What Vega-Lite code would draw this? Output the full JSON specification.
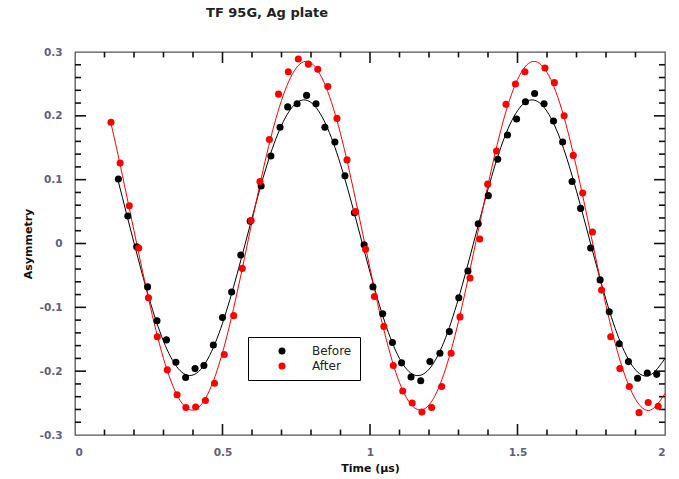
{
  "$schema": "https://vega.github.io/schema/vega-lite/v6.json",
  "width": 590,
  "height": 383,
  "autosize": {"type": "none"},
  "padding": {"left": 75, "top": 52, "right": 14, "bottom": 44},
  "background": "white",
  "title": {"text": "TF 95G, Ag plate", "font": "DejaVu Sans", "fontSize": 13, "fontWeight": "bold", "color": "#222222", "frame": "group", "dx": -103, "offset": 27},
  "config": {
    "view": {"stroke": "#555555", "strokeWidth": 1.3},
    "axis": {"grid": false, "domain": false, "ticks": false, "labelFont": "DejaVu Sans", "labelFontSize": 10.5, "labelFontWeight": "bold", "labelColor": "#60607a", "titleFont": "DejaVu Sans", "titleFontSize": 11, "titleFontWeight": "bold", "titleColor": "#111111"},
    "legend": {"labelFont": "DejaVu Sans", "labelFontSize": 12, "labelColor": "#222222"}
  },
  "datasets": {
    "fitB": [
      {"t": 0.147, "a": 0.097}, {"t": 0.20, "a": 0.001}, {"t": 0.25, "a": -0.084},
      {"t": 0.30, "a": -0.153}, {"t": 0.35, "a": -0.196}, {"t": 0.40, "a": -0.206},
      {"t": 0.45, "a": -0.181}, {"t": 0.50, "a": -0.125}, {"t": 0.55, "a": -0.047},
      {"t": 0.60, "a": 0.040}, {"t": 0.65, "a": 0.122}, {"t": 0.70, "a": 0.185},
      {"t": 0.75, "a": 0.220}, {"t": 0.80, "a": 0.221}, {"t": 0.85, "a": 0.187},
      {"t": 0.90, "a": 0.124}, {"t": 0.95, "a": 0.042}, {"t": 1.00, "a": -0.045},
      {"t": 1.05, "a": -0.123}, {"t": 1.10, "a": -0.180}, {"t": 1.15, "a": -0.206},
      {"t": 1.20, "a": -0.197}, {"t": 1.25, "a": -0.155}, {"t": 1.30, "a": -0.086},
      {"t": 1.35, "a": -0.001}, {"t": 1.40, "a": 0.085}, {"t": 1.45, "a": 0.159},
      {"t": 1.50, "a": 0.208}, {"t": 1.55, "a": 0.225}, {"t": 1.60, "a": 0.207},
      {"t": 1.65, "a": 0.157}, {"t": 1.70, "a": 0.082}, {"t": 1.75, "a": -0.004},
      {"t": 1.80, "a": -0.088}, {"t": 1.85, "a": -0.156}, {"t": 1.90, "a": -0.198},
      {"t": 1.95, "a": -0.206}, {"t": 2.00, "a": -0.180}
    ],
    "fitA": [
      {"t": 0.122, "a": 0.188}, {"t": 0.15, "a": 0.130}, {"t": 0.20, "a": 0.020},
      {"t": 0.25, "a": -0.088}, {"t": 0.30, "a": -0.180}, {"t": 0.35, "a": -0.241},
      {"t": 0.40, "a": -0.261}, {"t": 0.45, "a": -0.236}, {"t": 0.50, "a": -0.171},
      {"t": 0.55, "a": -0.076}, {"t": 0.60, "a": 0.034}, {"t": 0.65, "a": 0.140},
      {"t": 0.70, "a": 0.224}, {"t": 0.75, "a": 0.275}, {"t": 0.80, "a": 0.283},
      {"t": 0.85, "a": 0.246}, {"t": 0.90, "a": 0.172}, {"t": 0.95, "a": 0.071},
      {"t": 1.00, "a": -0.039}, {"t": 1.05, "a": -0.141}, {"t": 1.10, "a": -0.218},
      {"t": 1.15, "a": -0.257}, {"t": 1.20, "a": -0.253}, {"t": 1.25, "a": -0.205},
      {"t": 1.30, "a": -0.122}, {"t": 1.35, "a": -0.017}, {"t": 1.40, "a": 0.092},
      {"t": 1.45, "a": 0.189}, {"t": 1.50, "a": 0.257}, {"t": 1.55, "a": 0.285},
      {"t": 1.60, "a": 0.268}, {"t": 1.65, "a": 0.210}, {"t": 1.70, "a": 0.119},
      {"t": 1.75, "a": 0.011}, {"t": 1.80, "a": -0.097}, {"t": 1.85, "a": -0.187},
      {"t": 1.90, "a": -0.244}, {"t": 1.95, "a": -0.261}, {"t": 2.00, "a": -0.235}
    ],
    "ptB": [
      {"t": 0.147, "a": 0.101, "s": "Before"}, {"t": 0.179, "a": 0.043, "s": "Before"}, {"t": 0.209, "a": -0.005, "s": "Before"},
      {"t": 0.246, "a": -0.068, "s": "Before"}, {"t": 0.278, "a": -0.121, "s": "Before"}, {"t": 0.310, "a": -0.151, "s": "Before"},
      {"t": 0.342, "a": -0.186, "s": "Before"}, {"t": 0.375, "a": -0.210, "s": "Before"}, {"t": 0.407, "a": -0.196, "s": "Before"},
      {"t": 0.437, "a": -0.191, "s": "Before"}, {"t": 0.469, "a": -0.159, "s": "Before"}, {"t": 0.500, "a": -0.116, "s": "Before"},
      {"t": 0.531, "a": -0.076, "s": "Before"}, {"t": 0.562, "a": -0.018, "s": "Before"}, {"t": 0.594, "a": 0.035, "s": "Before"},
      {"t": 0.631, "a": 0.090, "s": "Before"}, {"t": 0.664, "a": 0.137, "s": "Before"}, {"t": 0.695, "a": 0.182, "s": "Before"},
      {"t": 0.721, "a": 0.214, "s": "Before"}, {"t": 0.753, "a": 0.219, "s": "Before"}, {"t": 0.785, "a": 0.232, "s": "Before"},
      {"t": 0.817, "a": 0.219, "s": "Before"}, {"t": 0.847, "a": 0.182, "s": "Before"}, {"t": 0.881, "a": 0.159, "s": "Before"},
      {"t": 0.915, "a": 0.106, "s": "Before"}, {"t": 0.947, "a": 0.048, "s": "Before"}, {"t": 0.980, "a": -0.002, "s": "Before"},
      {"t": 1.010, "a": -0.068, "s": "Before"}, {"t": 1.043, "a": -0.110, "s": "Before"}, {"t": 1.076, "a": -0.155, "s": "Before"},
      {"t": 1.107, "a": -0.187, "s": "Before"}, {"t": 1.139, "a": -0.209, "s": "Before"}, {"t": 1.172, "a": -0.215, "s": "Before"},
      {"t": 1.203, "a": -0.185, "s": "Before"}, {"t": 1.237, "a": -0.172, "s": "Before"}, {"t": 1.269, "a": -0.138, "s": "Before"},
      {"t": 1.301, "a": -0.085, "s": "Before"}, {"t": 1.332, "a": -0.043, "s": "Before"}, {"t": 1.367, "a": 0.031, "s": "Before"},
      {"t": 1.401, "a": 0.075, "s": "Before"}, {"t": 1.433, "a": 0.132, "s": "Before"}, {"t": 1.466, "a": 0.170, "s": "Before"},
      {"t": 1.497, "a": 0.195, "s": "Before"}, {"t": 1.527, "a": 0.222, "s": "Before"}, {"t": 1.558, "a": 0.235, "s": "Before"},
      {"t": 1.590, "a": 0.219, "s": "Before"}, {"t": 1.622, "a": 0.192, "s": "Before"}, {"t": 1.653, "a": 0.159, "s": "Before"},
      {"t": 1.685, "a": 0.097, "s": "Before"}, {"t": 1.714, "a": 0.055, "s": "Before"}, {"t": 1.748, "a": -0.007, "s": "Before"},
      {"t": 1.780, "a": -0.057, "s": "Before"}, {"t": 1.811, "a": -0.107, "s": "Before"}, {"t": 1.845, "a": -0.157, "s": "Before"},
      {"t": 1.876, "a": -0.185, "s": "Before"}, {"t": 1.907, "a": -0.211, "s": "Before"}, {"t": 1.940, "a": -0.203, "s": "Before"},
      {"t": 1.972, "a": -0.205, "s": "Before"}
    ],
    "ptA": [
      {"t": 0.122, "a": 0.190, "s": "After"}, {"t": 0.153, "a": 0.126, "s": "After"}, {"t": 0.184, "a": 0.059, "s": "After"},
      {"t": 0.216, "a": -0.007, "s": "After"}, {"t": 0.249, "a": -0.085, "s": "After"}, {"t": 0.279, "a": -0.146, "s": "After"},
      {"t": 0.313, "a": -0.198, "s": "After"}, {"t": 0.346, "a": -0.237, "s": "After"}, {"t": 0.376, "a": -0.257, "s": "After"},
      {"t": 0.409, "a": -0.256, "s": "After"}, {"t": 0.442, "a": -0.246, "s": "After"}, {"t": 0.473, "a": -0.219, "s": "After"},
      {"t": 0.506, "a": -0.174, "s": "After"}, {"t": 0.538, "a": -0.113, "s": "After"}, {"t": 0.567, "a": -0.039, "s": "After"},
      {"t": 0.597, "a": 0.036, "s": "After"}, {"t": 0.627, "a": 0.097, "s": "After"}, {"t": 0.659, "a": 0.163, "s": "After"},
      {"t": 0.690, "a": 0.234, "s": "After"}, {"t": 0.723, "a": 0.269, "s": "After"}, {"t": 0.757, "a": 0.289, "s": "After"},
      {"t": 0.791, "a": 0.281, "s": "After"}, {"t": 0.823, "a": 0.273, "s": "After"}, {"t": 0.857, "a": 0.246, "s": "After"},
      {"t": 0.888, "a": 0.196, "s": "After"}, {"t": 0.922, "a": 0.131, "s": "After"}, {"t": 0.951, "a": 0.050, "s": "After"},
      {"t": 0.985, "a": -0.009, "s": "After"}, {"t": 1.015, "a": -0.083, "s": "After"}, {"t": 1.047, "a": -0.130, "s": "After"},
      {"t": 1.079, "a": -0.191, "s": "After"}, {"t": 1.111, "a": -0.231, "s": "After"}, {"t": 1.143, "a": -0.250, "s": "After"},
      {"t": 1.176, "a": -0.264, "s": "After"}, {"t": 1.209, "a": -0.257, "s": "After"}, {"t": 1.243, "a": -0.224, "s": "After"},
      {"t": 1.275, "a": -0.172, "s": "After"}, {"t": 1.305, "a": -0.115, "s": "After"}, {"t": 1.339, "a": -0.054, "s": "After"},
      {"t": 1.372, "a": 0.007, "s": "After"}, {"t": 1.399, "a": 0.093, "s": "After"}, {"t": 1.429, "a": 0.145, "s": "After"},
      {"t": 1.461, "a": 0.218, "s": "After"}, {"t": 1.493, "a": 0.250, "s": "After"}, {"t": 1.525, "a": 0.269, "s": "After"},
      {"t": 1.593, "a": 0.275, "s": "After"}, {"t": 1.625, "a": 0.252, "s": "After"}, {"t": 1.658, "a": 0.200, "s": "After"},
      {"t": 1.689, "a": 0.138, "s": "After"}, {"t": 1.721, "a": 0.079, "s": "After"}, {"t": 1.754, "a": 0.018, "s": "After"},
      {"t": 1.785, "a": -0.073, "s": "After"}, {"t": 1.816, "a": -0.146, "s": "After"}, {"t": 1.847, "a": -0.196, "s": "After"},
      {"t": 1.879, "a": -0.224, "s": "After"}, {"t": 1.912, "a": -0.265, "s": "After"}, {"t": 1.943, "a": -0.249, "s": "After"},
      {"t": 1.977, "a": -0.255, "s": "After"}
    ]
  },
  "resolve": {"axis": {"x": "independent", "y": "independent"}},
  "layer": [
    {
      "data": {"values": [{"v": 0.5}, {"v": 1}, {"v": 1.5}]},
      "mark": {"type": "rule", "color": "#111111", "strokeWidth": 1.6},
      "encoding": {"x": {"field": "v", "type": "quantitative", "scale": {"domain": [0, 2], "nice": false, "zero": false}, "axis": null},
                   "y": {"datum": -0.3, "type": "quantitative", "scale": {"domain": [-0.3, 0.3], "nice": false, "zero": false}, "axis": null}, "y2": {"datum": -0.2828}}
    },
    {
      "data": {"values": [{"u": 0.5}, {"u": 1}, {"u": 1.5}]},
      "mark": {"type": "rule", "color": "#111111", "strokeWidth": 1.6},
      "encoding": {"x": {"field": "u", "type": "quantitative", "axis": null},
                   "y": {"datum": 0.2828, "type": "quantitative", "axis": null}, "y2": {"datum": 0.3}}
    },
    {
      "data": {"values": [{"v": 0.1}, {"v": 0.2}, {"v": 0.3}, {"v": 0.4}, {"v": 0.6}, {"v": 0.7}, {"v": 0.8}, {"v": 0.9}, {"v": 1.1}, {"v": 1.2}, {"v": 1.3}, {"v": 1.4}, {"v": 1.6}, {"v": 1.7}, {"v": 1.8}, {"v": 1.9}]},
      "mark": {"type": "rule", "color": "#111111", "strokeWidth": 1.6},
      "encoding": {"x": {"field": "v", "type": "quantitative", "axis": null},
                   "y": {"datum": -0.3, "type": "quantitative", "axis": null}, "y2": {"datum": -0.2915}}
    },
    {
      "data": {"values": [{"u": 0.1}, {"u": 0.2}, {"u": 0.3}, {"u": 0.4}, {"u": 0.6}, {"u": 0.7}, {"u": 0.8}, {"u": 0.9}, {"u": 1.1}, {"u": 1.2}, {"u": 1.3}, {"u": 1.4}, {"u": 1.6}, {"u": 1.7}, {"u": 1.8}, {"u": 1.9}]},
      "mark": {"type": "rule", "color": "#111111", "strokeWidth": 1.6},
      "encoding": {"x": {"field": "u", "type": "quantitative", "axis": null},
                   "y": {"datum": 0.2915, "type": "quantitative", "axis": null}, "y2": {"datum": 0.3}}
    },
    {
      "data": {"values": [{"w": -0.2}, {"w": -0.1}, {"w": 0}, {"w": 0.1}, {"w": 0.2}]},
      "mark": {"type": "rule", "color": "#111111", "strokeWidth": 1.6},
      "encoding": {"y": {"field": "w", "type": "quantitative", "axis": null},
                   "x": {"datum": 0, "type": "quantitative", "axis": null}, "x2": {"datum": 0.0373}}
    },
    {
      "data": {"values": [{"z": -0.2}, {"z": -0.1}, {"z": 0}, {"z": 0.1}, {"z": 0.2}]},
      "mark": {"type": "rule", "color": "#111111", "strokeWidth": 1.6},
      "encoding": {"y": {"field": "z", "type": "quantitative", "axis": null},
                   "x": {"datum": 1.9627, "type": "quantitative", "axis": null}, "x2": {"datum": 2}}
    },
    {
      "data": {"values": [{"w": -0.28}, {"w": -0.26}, {"w": -0.24}, {"w": -0.22}, {"w": -0.18}, {"w": -0.16}, {"w": -0.14}, {"w": -0.12}, {"w": -0.08}, {"w": -0.06}, {"w": -0.04}, {"w": -0.02}, {"w": 0.02}, {"w": 0.04}, {"w": 0.06}, {"w": 0.08}, {"w": 0.12}, {"w": 0.14}, {"w": 0.16}, {"w": 0.18}, {"w": 0.22}, {"w": 0.24}, {"w": 0.26}, {"w": 0.28}]},
      "mark": {"type": "rule", "color": "#111111", "strokeWidth": 1.6},
      "encoding": {"y": {"field": "w", "type": "quantitative", "axis": null},
                   "x": {"datum": 0, "type": "quantitative", "axis": null}, "x2": {"datum": 0.0203}}
    },
    {
      "data": {"values": [{"z": -0.28}, {"z": -0.26}, {"z": -0.24}, {"z": -0.22}, {"z": -0.18}, {"z": -0.16}, {"z": -0.14}, {"z": -0.12}, {"z": -0.08}, {"z": -0.06}, {"z": -0.04}, {"z": -0.02}, {"z": 0.02}, {"z": 0.04}, {"z": 0.06}, {"z": 0.08}, {"z": 0.12}, {"z": 0.14}, {"z": 0.16}, {"z": 0.18}, {"z": 0.22}, {"z": 0.24}, {"z": 0.26}, {"z": 0.28}]},
      "mark": {"type": "rule", "color": "#111111", "strokeWidth": 1.6},
      "encoding": {"y": {"field": "z", "type": "quantitative", "axis": null},
                   "x": {"datum": 1.9797, "type": "quantitative", "axis": null}, "x2": {"datum": 2}}
    },
    {
      "data": {"name": "fitB"},
      "mark": {"type": "line", "strokeWidth": 1, "interpolate": "natural", "color": "#000000"},
      "encoding": {
        "x": {"field": "t", "type": "quantitative", "scale": {"domain": [0, 2], "nice": false, "zero": false},
              "axis": {"orient": "bottom", "values": [0, 0.5, 1, 1.5, 2], "labelPadding": 12, "title": "Time (μs)", "titlePadding": 5,
                       "labelExpr": "replace(format(datum.value, '~g'), '−', '-')"}},
        "y": {"field": "a", "type": "quantitative", "scale": {"domain": [-0.3, 0.3], "nice": false, "zero": false},
              "axis": {"orient": "left", "values": [-0.3, -0.2, -0.1, 0, 0.1, 0.2, 0.3], "labelPadding": 13, "title": "Asymmetry", "titlePadding": 6,
                       "labelExpr": "replace(format(datum.value, '~g'), '−', '-')"}}
      }
    },
    {
      "data": {"name": "fitA"},
      "mark": {"type": "line", "strokeWidth": 1, "interpolate": "natural", "color": "#ff0000"},
      "encoding": {
        "x": {"field": "t", "type": "quantitative", "axis": null},
        "y": {"field": "a", "type": "quantitative", "axis": null}
      }
    },
    {
      "data": {"name": "ptB"},
      "mark": {"type": "circle", "size": 50, "opacity": 1},
      "encoding": {
        "x": {"field": "t", "type": "quantitative", "axis": null},
        "y": {"field": "a", "type": "quantitative", "axis": null},
        "color": {"field": "s", "type": "nominal", "scale": {"domain": ["Before", "After"], "range": ["#000000", "#ff0000"]},
                  "legend": {"orient": "none", "legendX": 173, "legendY": 285, "direction": "vertical", "title": null, "strokeColor": "#000000", "fillColor": "#ffffff", "padding": 8, "symbolOffset": 20, "labelOffset": 24, "symbolSize": 50, "symbolType": "circle", "rowPadding": 3}}
      }
    },
    {
      "data": {"name": "ptA"},
      "mark": {"type": "circle", "size": 50, "opacity": 1},
      "encoding": {
        "x": {"field": "t", "type": "quantitative", "axis": null},
        "y": {"field": "a", "type": "quantitative", "axis": null},
        "color": {"field": "s", "type": "nominal", "scale": {"domain": ["Before", "After"], "range": ["#000000", "#ff0000"]}}
      }
    }
  ]
}
